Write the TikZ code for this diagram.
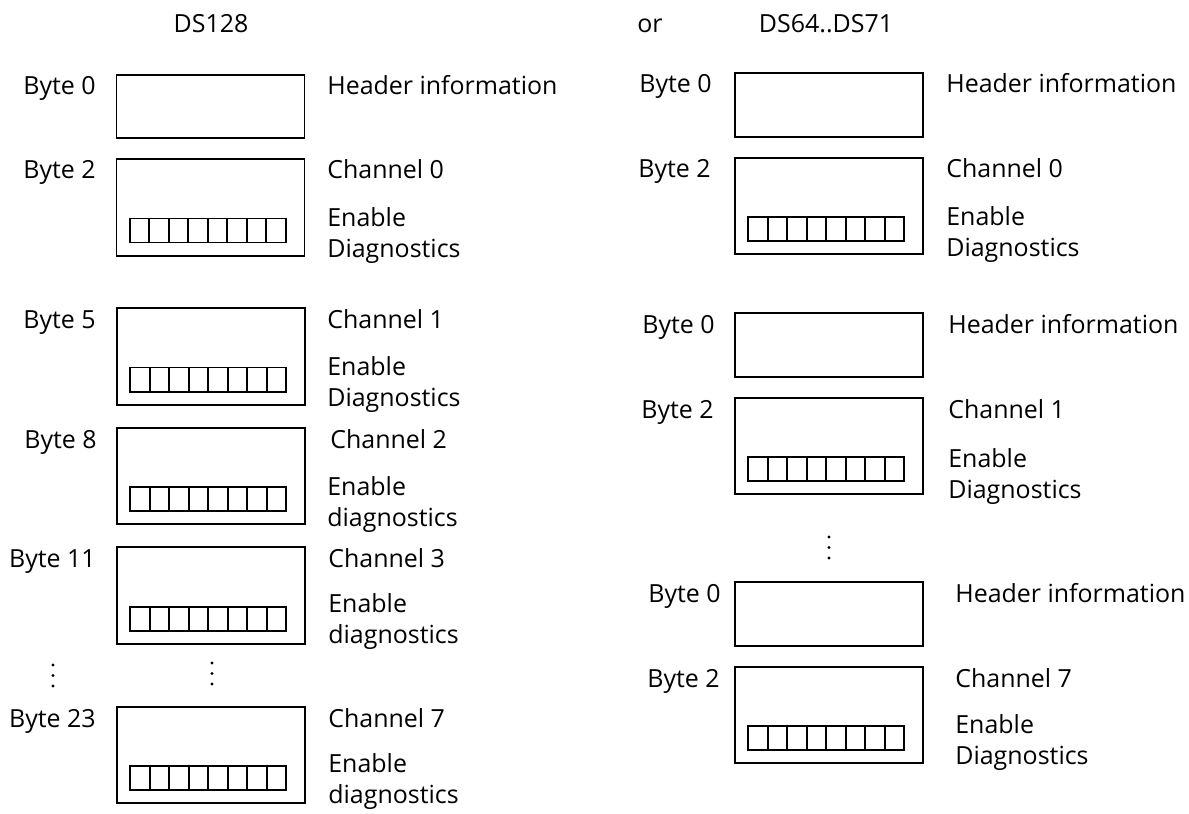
\documentclass[tikz,border=0pt]{standalone}
\usepackage{fontspec}
\setmainfont{Open Sans}
\usepackage{tikz}

\tikzset{
  regbox/.style={draw, line width=1pt, minimum width=3.76cm, inner sep=0pt},
  hdrbox/.style={regbox, minimum height=1.27cm},
  chbox/.style={regbox, minimum height=1.93cm},
  lbl/.style={font=\fontsize{14.2}{17.6}\selectfont, inner sep=0pt},
  bytelbl/.style={lbl, anchor=base east},
  desc/.style={lbl, anchor=base west, align=left},
}

\begin{document}
\begin{tikzpicture}[x=0.02cm, y=-0.02cm]
      \useasboundingbox (0,0) rectangle (1189,814);
      % titles
      \node[lbl, anchor=base] (tA) at (211,33) {DS128};
      \node[lbl, anchor=base] (tor) at (650,33) {or};
      \node[lbl, anchor=base] (tB) at (826,33) {DS64..DS71};
      % DS128
      \node[hdrbox] (hdrA) at (210.5,106.5) {};
      \node[chbox] (chA0) at (210.5,207.5) {};
      \node[chbox] (chA1) at (211,356.5) {};
      \node[chbox] (chA2) at (211,476) {};
      \node[chbox] (chA3) at (211,595.5) {};
      \node[chbox] (chA7) at (211,755) {};
      \node[bytelbl] (bA0) at (96,95) {Byte 0};
      \node[bytelbl] (bA2) at (96,179) {Byte 2};
      \node[bytelbl] (bA5) at (96,328) {Byte 5};
      \node[bytelbl] (bA8) at (97,448) {Byte 8};
      \node[bytelbl] (bA11) at (96,567) {Byte 11};
      \node[bytelbl] (bA23) at (96,727) {Byte 23};
      \node[desc] (dA0) at (327,95) {Header information};
      \node[desc] (cA0) at (327,179) {Channel 0};
      \node[desc] (eA0) at (327,257) {Enable\\Diagnostics};
      \node[desc] (cA1) at (327,328) {Channel 1};
      \node[desc] (eA1) at (327,406) {Enable\\Diagnostics};
      \node[desc] (cA2) at (330,448) {Channel 2};
      \node[desc] (eA2) at (327,526) {Enable\\diagnostics};
      \node[desc] (cA3) at (328,567) {Channel 3};
      \node[desc] (eA3) at (328,643) {Enable\\diagnostics};
      \node[desc] (cA7) at (328,727) {Channel 7};
      \node[desc] (eA7) at (328,803) {Enable\\diagnostics};
      % DS64..DS71
      \node[hdrbox] (hdrB0) at (829,105) {};
      \node[chbox] (chB0) at (829,206) {};
      \node[hdrbox] (hdrB1) at (829,345) {};
      \node[chbox] (chB1) at (829,446) {};
      \node[hdrbox] (hdrB2) at (829,614) {};
      \node[chbox] (chB7) at (829,715) {};
      \node[bytelbl] (bB0) at (712,93) {Byte 0};
      \node[bytelbl] (bB2) at (711,178) {Byte 2};
      \node[bytelbl] (bB3) at (715,333) {Byte 0};
      \node[bytelbl] (bB4) at (714,418) {Byte 2};
      \node[bytelbl] (bB5) at (721,602) {Byte 0};
      \node[bytelbl] (bB6) at (720,687) {Byte 2};
      \node[desc] (dB0) at (946,93) {Header information};
      \node[desc] (cB0) at (946,178) {Channel 0};
      \node[desc] (eB0) at (946,256) {Enable\\Diagnostics};
      \node[desc] (dB1) at (948,333) {Header information};
      \node[desc] (cB1) at (948,418) {Channel 1};
      \node[desc] (eB1) at (948,498) {Enable\\Diagnostics};
      \node[desc] (dB2) at (955,602) {Header information};
      \node[desc] (cB7) at (955,687) {Channel 7};
      \node[desc] (eB7) at (955,764) {Enable\\Diagnostics};
      % bit fields
      \foreach \b in {chA0,chA1,chA2,chA3,chA7,chB0,chB1,chB7}
        \foreach \i in {0,...,7}
          \draw[line width=1pt] ([shift={(14+19.5*\i,-14)}]\b.south west) rectangle ++(19.5,-24);
      % dots
      \foreach \x/\y in {53/665, 212/663, 829/537}
        \foreach \d in {0,1,2}
          \fill (\x,\y+10.5*\d) circle (1.6);
\end{tikzpicture}
\end{document}
